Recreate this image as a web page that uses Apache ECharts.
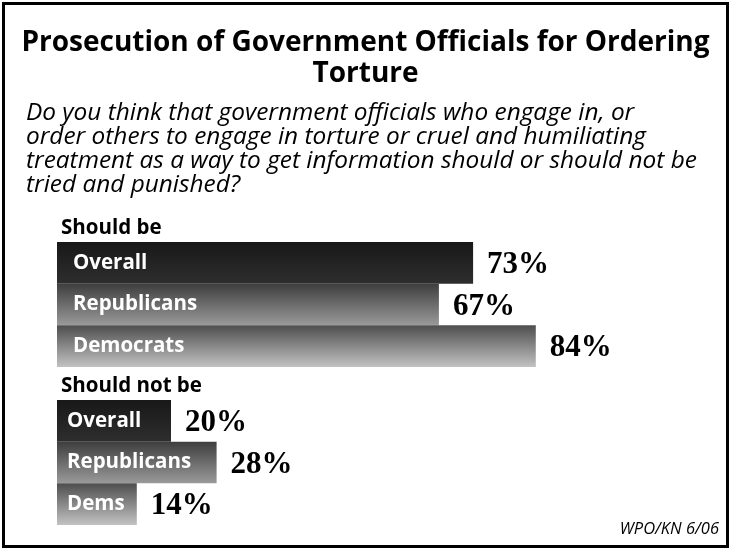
<!DOCTYPE html>
<html><head><meta charset="utf-8">
<script src="https://cdn.jsdelivr.net/npm/echarts@6/dist/echarts.min.js"></script>
<style>html,body{margin:0;padding:0;background:#fff}#c{width:731px;height:550px}</style>
</head><body><div id="c"></div>
<script>
const titleText = 'Prosecution of Government Officials for Ordering\nTorture';
const questionText = 'Do you think that government officials who engage in, or\norder others to engage in torture or cruel and humiliating\ntreatment as a way to get information should or should not be\ntried and punished?';
const groupLabels = ['Should be', 'Should not be'];
const categoriesShould = ['Overall', 'Republicans', 'Democrats'];
const valuesShould = [73, 67, 84];
const categoriesShouldNot = ['Overall', 'Republicans', 'Dems'];
const valuesShouldNot = [20, 28, 14];
const sourceText = 'WPO/KN 6/06';

const grads = [
  ['#181818', '#2e2e2e'],
  ['#3e3e3e', '#9a9a9a'],
  ['#4e4e4e', '#c2c2c2']
];
function grad(i) {
  return new echarts.graphic.LinearGradient(0, 0, 0, 1, [
    {offset: 0, color: grads[i][0]}, {offset: 1, color: grads[i][1]}
  ]);
}
function items(vals) {
  return vals.map((v, i) => ({value: v, itemStyle: {color: grad(i)}}));
}
const sans = 'Open Sans';
const chart = echarts.init(document.getElementById('c'));
function barSeries(gi, vals, nameDist) {
  return [{
    type: 'bar', xAxisIndex: gi, yAxisIndex: gi, data: items(vals),
    barCategoryGap: '0%', barGap: '-100%', silent: true,
    label: {show: true, position: 'insideLeft', distance: nameDist, formatter: '{b}',
      color: '#fff', fontFamily: sans, fontWeight: 'bold', fontSize: 20.5}
  }, {
    type: 'bar', xAxisIndex: gi, yAxisIndex: gi, data: vals,
    barCategoryGap: '0%', barGap: '-100%', silent: true,
    itemStyle: {color: 'rgba(0,0,0,0)'},
    label: {show: true, position: 'right', distance: 14, offset: [0, 2], formatter: '{c}%',
      color: '#000', fontFamily: 'Liberation Serif', fontWeight: 'bold', fontSize: 31}
  }];
}
chart.setOption({
  animation: false,
  grid: [
    {left: 57, top: 242, width: 570, height: 125},
    {left: 57, top: 400, width: 570, height: 125}
  ],
  xAxis: [
    {gridIndex: 0, type: 'value', min: 0, max: 100, show: false},
    {gridIndex: 1, type: 'value', min: 0, max: 100, show: false}
  ],
  yAxis: [
    {gridIndex: 0, type: 'category', data: categoriesShould, inverse: true, show: false},
    {gridIndex: 1, type: 'category', data: categoriesShouldNot, inverse: true, show: false}
  ],
  series: [...barSeries(0, valuesShould, 16), ...barSeries(1, valuesShouldNot, 10)],
  graphic: [
    {type: 'rect', shape: {x: 3.5, y: 3.5, width: 724, height: 543},
      style: {fill: 'none', stroke: '#000', lineWidth: 3}, silent: true},
    {type: 'text', x: 365.5, y: 28, silent: true,
      style: {text: titleText, align: 'center', fontFamily: sans, fontWeight: 'bold', fontSize: 28, lineHeight: 31, fill: '#000'}},
    {type: 'text', left: 26, top: 101, silent: true,
      style: {text: questionText, fontFamily: sans, fontStyle: 'italic', fontSize: 24.4, lineHeight: 24, fill: '#000'}},
    {type: 'text', left: 61, top: 218, silent: true,
      style: {text: groupLabels[0], fontFamily: sans, fontWeight: 'bold', fontSize: 20.5, fill: '#000'}},
    {type: 'text', left: 61, top: 376, silent: true,
      style: {text: groupLabels[1], fontFamily: sans, fontWeight: 'bold', fontSize: 20.5, fill: '#000'}},
    {type: 'text', right: 12, top: 521, silent: true,
      style: {text: sourceText, fontFamily: sans, fontStyle: 'italic', fontSize: 16.5, fill: '#000'}}
  ]
});
</script></body></html>
